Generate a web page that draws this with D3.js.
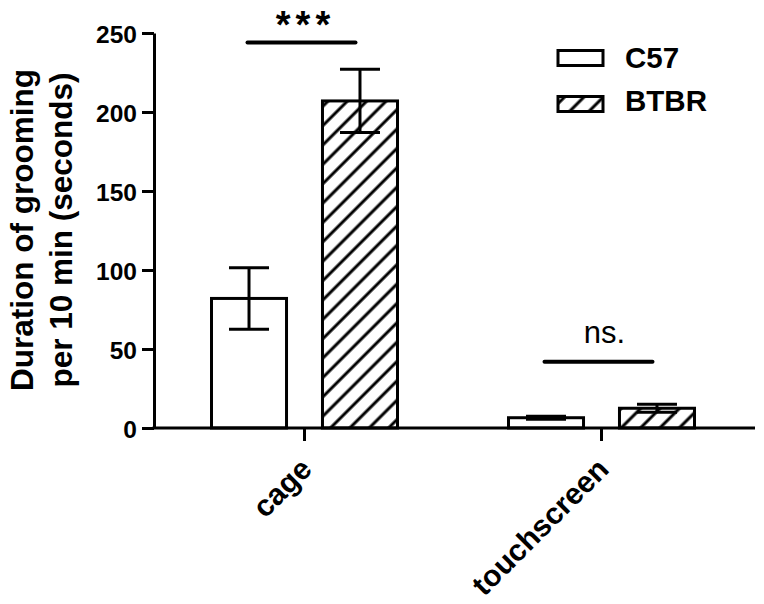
<!DOCTYPE html>
<html>
<head>
<meta charset="utf-8">
<script src="https://cdn.jsdelivr.net/npm/d3@7"></script>
<style>
  html, body { margin: 0; padding: 0; background: #fff; }
  svg { display: block; font-family: "Liberation Sans", Arial, Helvetica, sans-serif; }
</style>
</head>
<body>
<svg id="chart" width="764" height="604"></svg>
<script>
// ---- data ----
const categories = ["cage", "touchscreen"];
const seriesNames = ["C57", "BTBR"];
const c57Mean = [82, 6.5];
const c57Sem = [19.5, 1.0];
const btbrMean = [207, 12.5];
const btbrSem = [20, 2.5];
const yTicks = [0, 50, 100, 150, 200, 250];
const sigLabels = ["***", "ns."];
const sigLevels = [244, 42];
const yTitleLines = ["Duration of grooming", "per 10 min (seconds)"];

// ---- layout ----
const svg = d3.select("#chart");
const axisX = 154, axisY = 428, xEnd = 755;
const y = d3.scaleLinear().domain([0, 250]).range([axisY, 33]);
const x0 = d3.scaleBand().domain(categories).range([156, 750]).padding(0);
const x1 = d3.scaleBand().domain(seriesNames).range([-93, 93]).paddingInner(0.324).paddingOuter(0);

// hatch pattern
const defs = svg.append("defs");
const pat = defs.append("pattern")
  .attr("id", "hatch")
  .attr("patternUnits", "userSpaceOnUse")
  .attr("width", 13.7).attr("height", 13.7)
  .attr("patternTransform", "rotate(45)");
pat.append("rect").attr("width", 13.7).attr("height", 13.7).attr("fill", "#fff");
pat.append("line").attr("x1", 2).attr("x2", 2).attr("y1", 0).attr("y2", 13.7)
  .attr("stroke", "#000").attr("stroke-width", 3);

const fills = { C57: "#fff", BTBR: "url(#hatch)" };

// data rows
const rows = [];
categories.forEach((c, i) => {
  rows.push({ cat: c, s: "C57", mean: c57Mean[i], sem: c57Sem[i] });
  rows.push({ cat: c, s: "BTBR", mean: btbrMean[i], sem: btbrSem[i] });
});

// bars
svg.append("g").selectAll("rect").data(rows).join("rect")
  .attr("x", d => x0(d.cat) + x0.bandwidth() / 2 + x1(d.s))
  .attr("y", d => y(d.mean))
  .attr("width", x1.bandwidth())
  .attr("height", d => y(0) - y(d.mean))
  .attr("fill", d => fills[d.s])
  .attr("stroke", "#000").attr("stroke-width", 3);

// error bars
const eb = svg.append("g").attr("stroke", "#000").attr("stroke-width", 3).attr("fill", "none");
rows.forEach(d => {
  const cx = x0(d.cat) + x0.bandwidth() / 2 + x1(d.s) + x1.bandwidth() / 2;
  const hi = y(d.mean + d.sem), lo = y(d.mean - d.sem);
  eb.append("line").attr("x1", cx).attr("x2", cx).attr("y1", hi).attr("y2", lo);
  eb.append("line").attr("x1", cx - 20).attr("x2", cx + 20).attr("y1", hi).attr("y2", hi);
  eb.append("line").attr("x1", cx - 20).attr("x2", cx + 20).attr("y1", lo).attr("y2", lo);
});

// y axis
const yAxis = svg.append("g").attr("transform", `translate(${axisX},0)`)
  .call(d3.axisLeft(y).tickValues(yTicks).tickSize(12).tickSizeOuter(0).tickPadding(5));
yAxis.selectAll("path, line").attr("stroke", "#000").attr("stroke-width", 3);
yAxis.selectAll("text").attr("font-size", 24.5).attr("font-weight", "bold")
  .attr("font-family", "'Liberation Sans', Arial, sans-serif").attr("fill", "#000").attr("dy", "0.37em");

// x axis
const xAxis = svg.append("g").attr("transform", `translate(0,${axisY})`)
  .call(d3.axisBottom(x0).tickSize(13).tickSizeOuter(0));
xAxis.select(".domain").remove();
xAxis.selectAll("line").attr("stroke", "#000").attr("stroke-width", 3);
xAxis.selectAll("text")
  .attr("x", 0).attr("y", 0).attr("dy", 0)
  .attr("transform", "translate(9,43) rotate(-45)")
  .style("text-anchor", "end")
  .attr("font-size", 30).attr("font-weight", "bold")
  .attr("font-family", "'Liberation Sans', Arial, sans-serif").attr("fill", "#000");
svg.append("line").attr("x1", axisX - 1.5).attr("x2", xEnd).attr("y1", axisY).attr("y2", axisY)
  .attr("stroke", "#000").attr("stroke-width", 3);

// y title
const yt = svg.append("text")
  .attr("transform", "translate(0,230) rotate(-90)")
  .attr("text-anchor", "middle").attr("font-size", 31.5).attr("font-weight", "bold").attr("fill", "#000");
yTitleLines.forEach((t, i) => yt.append("tspan").attr("x", 0).attr("y", i === 0 ? 33 : 72).text(t));

// significance annotations
categories.forEach((c, i) => {
  const cx = x0(c) + x0.bandwidth() / 2 - 3;
  const ly = y(sigLevels[i]);
  svg.append("line").attr("x1", cx - 54).attr("x2", cx + 54).attr("y1", ly).attr("y2", ly)
    .attr("stroke", "#000").attr("stroke-width", 4).attr("stroke-linecap", "round");
  const isStar = sigLabels[i].startsWith("*");
  svg.append("text").attr("x", cx + (isStar ? 4 : 6)).attr("y", isStar ? ly - 4 : ly - 19)
    .attr("text-anchor", "middle")
    .attr("font-size", isStar ? 38 : 31)
    .attr("font-weight", isStar ? "bold" : "normal")
    .attr("letter-spacing", isStar ? 5 : 0)
    .attr("fill", "#000")
    .text(sigLabels[i]);
});

// legend
const legendRows = [58, 104];
seriesNames.forEach((s, i) => {
  const g = svg.append("g");
  g.append("rect").attr("x", 558).attr("y", legendRows[i] - 7.5).attr("width", 45).attr("height", 15)
    .attr("fill", fills[s]).attr("stroke", "#000").attr("stroke-width", 3);
  g.append("text").attr("x", 625).attr("y", legendRows[i] + (i === 0 ? 10 : 7))
    .attr("font-size", 29.5).attr("font-weight", "bold").attr("fill", "#000").text(s);
});
</script>
</body>
</html>
